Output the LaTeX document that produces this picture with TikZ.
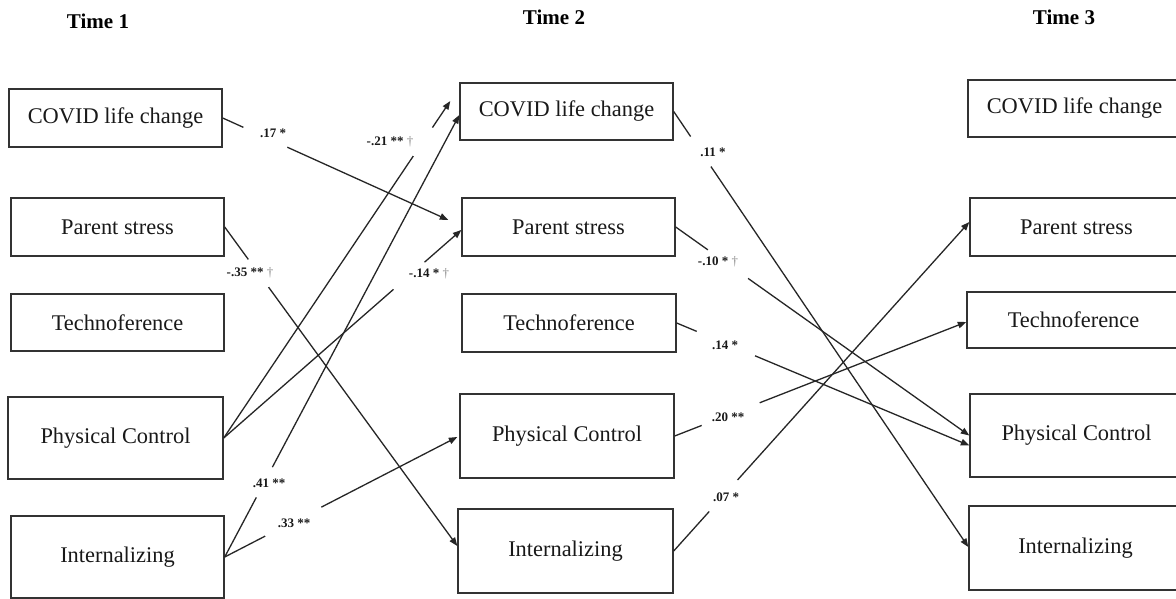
\documentclass[tikz,border=0pt]{standalone}
\usepackage{fontspec}
\setmainfont{Liberation Serif}
\usetikzlibrary{arrows.meta,calc}
\newcommand\mydag{\textcolor{black!45}{\normalfont\fontsize{13}{15}\selectfont †}}
\begin{document}
\begin{tikzpicture}[x=1pt,y=-1pt,
  box/.style={draw=black!80, line width=1.4pt, rectangle, inner sep=0pt,
    font=\fontsize{22.4}{26}\selectfont, text=black!90},
  hdr/.style={font=\fontsize{21}{24}\selectfont\bfseries, inner sep=0pt},
  lab/.style={font=\fontsize{13}{15}\selectfont\bfseries, inner sep=0pt, text=black!90},
  conn/.style={draw=black!85, line width=1.3pt, -{Triangle[length=8.5pt,width=6.5pt]}},
  gapmask/.style={sloped, fill=white, minimum width=#1, minimum height=4pt, inner sep=0pt}]
\fill[white, use as bounding box] (0,0) rectangle (1176,599);
\clip (0,0) rectangle (1176,599);

% headings
\node[hdr] (h1) at (98,21) {Time 1};
\node[hdr] (h2) at (554,17) {Time 2};
\node[hdr] (h3) at (1064,17) {Time 3};

% Time 1
\node[box, minimum width=213pt, minimum height=58pt] (t1c) at (115.5,118) {COVID life change};
\node[box, minimum width=213pt, minimum height=58pt] (t1p) at (117.5,227) {Parent stress};
\node[box, minimum width=213pt, minimum height=57pt] (t1t) at (117.5,322.5) {Technoference};
\node[box, minimum width=215pt, minimum height=82pt] (t1pc) at (115.5,438) {Physical Control};
\node[box, minimum width=213pt, minimum height=82pt] (t1i) at (117.5,557) {Internalizing};

% Time 2
\node[box, minimum width=213pt, minimum height=57pt] (t2c) at (566.5,111.5) {COVID life change};
\node[box, minimum width=213pt, minimum height=58pt] (t2p) at (568.5,227) {Parent stress};
\node[box, minimum width=214pt, minimum height=58pt] (t2t) at (569,323) {Technoference};
\node[box, minimum width=214pt, minimum height=84pt] (t2pc) at (567,436) {Physical Control};
\node[box, minimum width=215pt, minimum height=84pt] (t2i) at (565.5,551) {Internalizing};

% Time 3
\node[box, minimum width=213pt, minimum height=57pt] (t3c) at (1074.5,108.5) {COVID life change};
\node[box, minimum width=213pt, minimum height=58pt] (t3p) at (1076.5,227) {Parent stress};
\node[box, minimum width=213pt, minimum height=56pt] (t3t) at (1073.5,320) {Technoference};
\node[box, minimum width=213pt, minimum height=83pt] (t3pc) at (1076.5,435.5) {Physical Control};
\node[box, minimum width=213pt, minimum height=84pt] (t3i) at (1075.5,548) {Internalizing};

% Time 1 -> Time 2
\draw[conn] (t1c.east) -- node[gapmask=48pt, pos=0.189]{} ($(t2p.west)+(-13,-7)$);
\draw[conn] (t1pc.east) -- node[gapmask=34pt, pos=0.879]{} ($(t2c.west)+(-9,-10.5)$);
\draw[conn] (t1i.east) -- node[gapmask=34pt, pos=0.169]{} ($(t2c.west)+(0,3.5)$);
\draw[conn] (t1pc.east) -- node[gapmask=41pt, pos=0.78]{} ($(t2p.west)+(0,3)$);
\draw[conn] (t1i.east) -- node[gapmask=63pt, pos=0.295]{} ($(t2pc.west)+(-2,1)$);
\draw[conn] (t1p.east) -- node[gapmask=34pt, pos=0.145]{} ($(t2i.west)+(0,-5)$);

% Time 2 -> Time 3
\draw[conn] (t2c.east) -- node[gapmask=36pt, pos=0.092]{} ($(t3i.west)+(0,-1)$);
\draw[conn] (t2p.east) -- node[gapmask=49pt, pos=0.178]{} (t3pc.west);
\draw[conn] (t2t.east) -- node[gapmask=63pt, pos=0.168]{} ($(t3pc.west)+(0,10)$);
\draw[conn] (t2pc.east) -- node[gapmask=62pt, pos=0.192]{} ($(t3t.west)+(0,2)$);
\draw[conn] (t2i.east) -- node[gapmask=42pt, pos=0.168]{} ($(t3p.west)+(0,-5)$);

% labels
\node[lab] (l1) at (273,133) {.17 *};
\node[lab] (l2) at (390,142) {-.21 ** \mydag};
\node[lab] (l3) at (250,273) {-.35 ** \mydag};
\node[lab] (l4) at (429,274) {-.14 * \mydag};
\node[lab] (l5) at (269,483) {.41 **};
\node[lab] (l6) at (294,523) {.33 **};
\node[lab] (l7) at (713,152) {.11 *};
\node[lab] (l8) at (718,262) {-.10 * \mydag};
\node[lab] (l9) at (725,345) {.14 *};
\node[lab] (l10) at (728,417) {.20 **};
\node[lab] (l11) at (726,497) {.07 *};
\end{tikzpicture}
\end{document}
